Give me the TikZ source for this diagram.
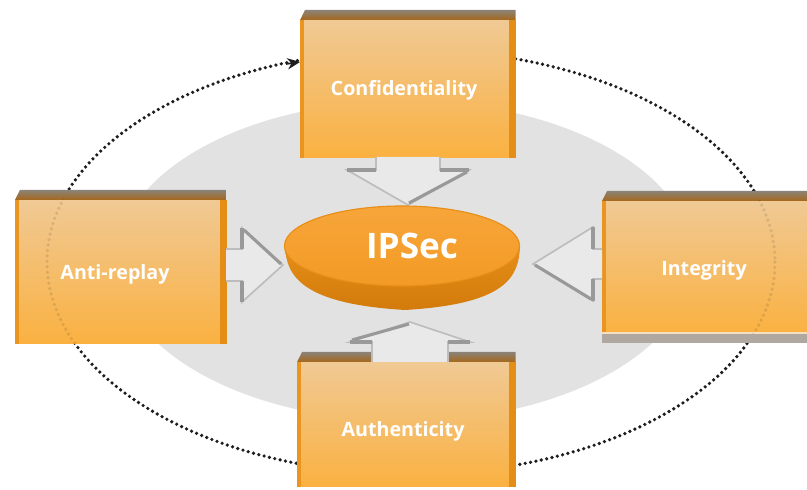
\documentclass[tikz,border=0pt]{standalone}
\usepackage{fontspec}
\setmainfont{Open Sans}
\usetikzlibrary{calc,shapes.geometric,arrows.meta}

\definecolor{facetop}{HTML}{F0C994}
\definecolor{facebot}{HTML}{FAB141}
\definecolor{stripgray}{HTML}{8B8378}
\definecolor{stripbrown}{HTML}{A5671A}
\definecolor{edgeorange}{HTML}{E9951F}
\definecolor{bevelorange}{HTML}{E48D17}
\definecolor{halo}{HTML}{E2E2E2}
\definecolor{arrowfill}{HTML}{E9E9E9}
\definecolor{arrowedge}{HTML}{BDBDBD}
\definecolor{arrowdark}{HTML}{999999}
\definecolor{ringdot}{HTML}{1E1E1E}
\definecolor{disctop}{HTML}{F7A53A}
\definecolor{discmid}{HTML}{F39A25}
\definecolor{discside}{HTML}{E68E17}
\definecolor{discdark}{HTML}{D27B0C}

\tikzset{
  face/.style={draw=none, top color=facetop, bottom color=facebot, inner sep=0pt, anchor=north west},
  lbl/.style={text=white, font=\fontsize{14}{16}\selectfont\bfseries},
  ring/.style={draw=ringdot, line width=2.6pt, line cap=round, dash pattern=on 0pt off 3.9pt},
}

% bevel trim round a box face: top strip, left stripe, right side
\newcommand{\slabtrim}[1]{%
  \shade[top color=stripgray, bottom color=stripbrown] ($(#1.north west)+(5,-10)$) -- ($(#1.north east)+(0,-10)$) -- (#1.north east) -- (#1.north west) -- cycle;
  \fill[edgeorange] (#1.north west) rectangle ($(#1.south west)+(4,0)$);
  \fill[bevelorange] ($(#1.north east)+(-7,0)$) rectangle (#1.south east);
}

% hollow block arrow: tip, rotation, length, head length, head half width, shaft half width
\newcommand{\hollowarrow}[6]{%
  \begin{scope}[shift={(#1)}, rotate=#2]
    \fill[arrowfill] (-#3,#6) -- (-#4,#6) -- (-#4,#5) -- (0,0) -- (-#4,-#5) -- (-#4,-#6) -- (-#3,-#6) -- cycle;
    \draw[arrowedge, line width=1.2pt, line join=miter] (-#3,#6) -- (-#4,#6) -- (-#4,#5) -- (0,0) -- (-#4,-#5) -- (-#4,-#6) -- (-#3,-#6);
    \draw[arrowdark, line width=2.6pt] (-#4,#6) -- (-#4,#5) (-#4,-#6) -- (-#4,-#5);
    \draw[arrowdark, line width=2.2pt] (-#4+2,-#5+2) -- (-2,-1);
  \end{scope}}

\begin{document}
\begin{tikzpicture}[x=0.025cm, y=-0.025cm, line join=round]
  \useasboundingbox (0,0) rectangle (807,490);
  \fill[white] (0,0) rectangle (807,490);

  % grey halo and dotted ring
  \fill[halo] (405,261) ellipse [x radius=288, y radius=160];
  \draw[ring] (411,262) ellipse [x radius=364, y radius=212];

  % the four boxes
  \node[face, minimum width=5.375cm, minimum height=3.425cm] (conf) at (300,20) {};
  \node[face, minimum width=5.275cm, minimum height=3.575cm] (anti) at (15,200) {};
  \node[face, minimum width=5.7cm, minimum height=3.3cm] (integ) at (602,201) {};
  \node[face, minimum width=5.45cm, minimum height=3.1cm] (auth) at (297,362) {};
  \foreach \b in {conf,anti,integ,auth} \slabtrim{\b};
  \fill[stripgray!70!white] (integ.south west) rectangle ($(integ.south east)+(0,9)$);
  \fill[facetop!60!white] (integ.south west) rectangle ($(integ.south east)+(0,-2)$);

  % ring seen faintly through the side boxes
  \foreach \b in {anti,integ} {
    \begin{scope}
      \clip (\b.north west) rectangle (\b.south east);
      \draw[ring, draw opacity=0.12] (411,262) ellipse [x radius=364, y radius=212];
    \end{scope}
  }

  % hollow arrows into the centre
  \coordinate (tipconf) at (408,205);
  \coordinate (tipanti) at (283,265);
  \coordinate (tipinteg) at (533,264);
  \coordinate (tipauth) at (410,322);
  \hollowarrow{tipconf}{-90}{48}{35}{61}{32}
  \hollowarrow{tipanti}{0}{57}{41}{37}{16}
  \hollowarrow{tipinteg}{180}{69}{60}{37}{15}
  \hollowarrow{tipauth}{90}{40}{20}{60}{38}

  % IPSec disc
  \shade[top color=discside, bottom color=discdark] (285,246) .. controls (286,278) and (305,304) .. (405,310) .. controls (505,304) and (519,278) .. (520,246) -- cycle;
  \node[ellipse, draw=discside, line width=0.8pt, inner sep=0pt, top color=disctop, bottom color=discmid,
        minimum width=5.875cm, minimum height=2cm] (ipsec) at (402,246) {};

  % labels
  \node[lbl] (conftxt) at (404,90) {Confidentiality};
  \node[lbl] (antitxt) at (115,274) {Anti-replay};
  \node[lbl] (integtxt) at (704,270) {Integrity};
  \node[lbl] (authtxt) at (403,431) {Authenticity};
  \node[text=white, font=\fontsize{25}{28}\selectfont\bfseries] (ipsectxt) at (412,246) {IPSec};

  % arrow head of the ring
  \coordinate (ringend) at (300,62);
  \draw[draw=ringdot, line width=1.2pt, -{Stealth[length=9pt,width=8pt]}] (286,64) -- (ringend);
\end{tikzpicture}
\end{document}
